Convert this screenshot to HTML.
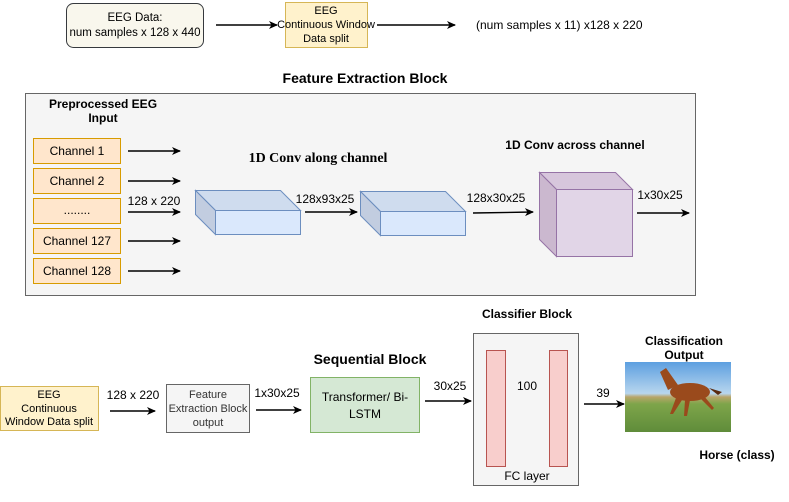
<!DOCTYPE html>
<html><head><meta charset="utf-8"><style>
body{margin:0;background:#fff}
svg{display:block;font-family:"Liberation Sans",Arial,sans-serif}
</style></head><body>
<svg width="789" height="502" viewBox="0 0 789 502" xmlns="http://www.w3.org/2000/svg">
<defs>
<marker id="a" markerWidth="10" markerHeight="10" refX="8" refY="5" orient="auto" markerUnits="userSpaceOnUse">
<path d="M0,1 L9,5 L0,9 L2.5,5 Z" fill="#000"/></marker>
<linearGradient id="sky" x1="0" y1="0" x2="0" y2="1">
<stop offset="0" stop-color="#5d9fe0"/><stop offset="0.45" stop-color="#b8d6ee"/><stop offset="0.5" stop-color="#b9a56a"/><stop offset="0.6" stop-color="#7ea54a"/><stop offset="1" stop-color="#5f8c3a"/></linearGradient>
</defs>
<g font-size="12" fill="#000" stroke="none">
<rect x="66.5" y="3.5" width="137" height="44" rx="7" fill="#f9f7ed" stroke="#36393d"/>
<text x="135" y="21" text-anchor="middle" font-size="11.5">EEG Data:</text>
<text x="135" y="36" text-anchor="middle" font-size="11.5">num samples x 128 x 440</text>
<g stroke="#000" stroke-width="1.4">
<line x1="216" y1="25" x2="277" y2="25" marker-end="url(#a)"/>
<line x1="377" y1="25" x2="455" y2="25" marker-end="url(#a)"/>
</g>
<rect x="285.5" y="2.5" width="82" height="45" fill="#fff2cc" stroke="#d6b656"/>
<text x="326" y="14" text-anchor="middle" font-size="11">EEG</text>
<text x="326" y="28" text-anchor="middle" font-size="11">Continuous Window</text>
<text x="326" y="42" text-anchor="middle" font-size="11">Data split</text>
<text x="476" y="29">(num samples x 11) x128 x 220</text>

<text x="365" y="83" text-anchor="middle" font-weight="bold" font-size="14">Feature Extraction Block</text>
<rect x="25.5" y="93.5" width="670" height="202" fill="#f5f5f5" stroke="#666"/>
<text x="103" y="108" text-anchor="middle" font-weight="bold">Preprocessed EEG</text>
<text x="103" y="122" text-anchor="middle" font-weight="bold">Input</text>
<g stroke="#d79b00" fill="#ffe6cc">
<rect x="33.5" y="138.5" width="87" height="25"/>
<rect x="33.5" y="168.5" width="87" height="25"/>
<rect x="33.5" y="198.5" width="87" height="25"/>
<rect x="33.5" y="228.5" width="87" height="25"/>
<rect x="33.5" y="258.5" width="87" height="25"/>
</g>
<text x="77" y="155" text-anchor="middle">Channel 1</text>
<text x="77" y="185" text-anchor="middle">Channel 2</text>
<text x="77" y="214" text-anchor="middle">........</text>
<text x="77" y="245" text-anchor="middle">Channel 127</text>
<text x="77" y="275" text-anchor="middle">Channel 128</text>
<g stroke="#000" stroke-width="1.4">
<line x1="128" y1="151" x2="180" y2="151" marker-end="url(#a)"/>
<line x1="128" y1="181" x2="180" y2="181" marker-end="url(#a)"/>
<line x1="128" y1="212" x2="180" y2="212" marker-end="url(#a)"/>
<line x1="128" y1="241" x2="180" y2="241" marker-end="url(#a)"/>
<line x1="128" y1="271" x2="180" y2="271" marker-end="url(#a)"/>
</g>
<text x="154" y="205" text-anchor="middle" style="paint-order:stroke" stroke="#f5f5f5" stroke-width="3">128 x 220</text>
<text x="318" y="162" text-anchor="middle" font-family="'Liberation Serif',serif" font-weight="bold" font-size="14">1D Conv along channel</text>

<g stroke="#6c8ebf">
<polygon points="195.5,190.5 280.5,190.5 300.5,210.5 215.5,210.5" fill="#cfdcee"/>
<polygon points="195.5,190.5 215.5,210.5 215.5,234.5 195.5,214.5" fill="#c2cde0"/>
<rect x="215.5" y="210.5" width="85" height="24" fill="#dae8fc"/>
<polygon points="360.5,191.5 445.5,191.5 465.5,211.5 380.5,211.5" fill="#cfdcee"/>
<polygon points="360.5,191.5 380.5,211.5 380.5,235.5 360.5,215.5" fill="#c2cde0"/>
<rect x="380.5" y="211.5" width="85" height="24" fill="#dae8fc"/>
</g>
<g stroke="#9673a6">
<polygon points="539.5,172.5 615.5,172.5 632.5,189.5 556.5,189.5" fill="#d7c6dc"/>
<polygon points="539.5,172.5 556.5,189.5 556.5,256.5 539.5,239.5" fill="#cbb8cf"/>
<rect x="556.5" y="189.5" width="76" height="67" fill="#e1d5e7"/>
</g>
<text x="575" y="149" text-anchor="middle" font-weight="bold">1D Conv across channel</text>
<g stroke="#000" stroke-width="1.4">
<line x1="305" y1="212" x2="357" y2="212" marker-end="url(#a)"/>
<line x1="473" y1="213" x2="533" y2="212" marker-end="url(#a)"/>
<line x1="637" y1="213" x2="689" y2="213" marker-end="url(#a)"/>
</g>
<text x="325" y="203" text-anchor="middle">128x93x25</text>
<text x="496" y="202" text-anchor="middle">128x30x25</text>
<text x="660" y="199" text-anchor="middle">1x30x25</text>

<rect x="0.5" y="386.5" width="98" height="44" fill="#fff2cc" stroke="#d6b656"/>
<text x="49" y="398" text-anchor="middle" font-size="11">EEG</text>
<text x="49" y="412" text-anchor="middle" font-size="11">Continuous</text>
<text x="49" y="425" text-anchor="middle" font-size="11">Window Data split</text>
<g stroke="#000" stroke-width="1.4">
<line x1="110" y1="411" x2="155" y2="411" marker-end="url(#a)"/>
<line x1="256" y1="410" x2="301" y2="410" marker-end="url(#a)"/>
<line x1="425" y1="401" x2="471" y2="401" marker-end="url(#a)"/>
<line x1="510" y1="402" x2="545" y2="402" marker-end="url(#a)"/>
<line x1="584" y1="404" x2="624" y2="404" marker-end="url(#a)"/>
</g>
<text x="133" y="399" text-anchor="middle">128 x 220</text>
<rect x="166.5" y="384.5" width="83" height="48" fill="#f5f5f5" stroke="#666"/>
<text x="208" y="398" text-anchor="middle" fill="#333" font-size="11">Feature</text>
<text x="208" y="412" text-anchor="middle" fill="#333" font-size="11">Extraction Block</text>
<text x="208" y="426" text-anchor="middle" fill="#333" font-size="11">output</text>
<text x="277" y="397" text-anchor="middle">1x30x25</text>
<text x="370" y="364" text-anchor="middle" font-weight="bold" font-size="14">Sequential Block</text>
<rect x="310.5" y="377.5" width="109" height="55" fill="#d5e8d4" stroke="#82b366"/>
<text x="365" y="401" text-anchor="middle">Transformer/ Bi-</text>
<text x="365" y="418" text-anchor="middle">LSTM</text>
<text x="450" y="390" text-anchor="middle">30x25</text>
<text x="527" y="318" text-anchor="middle" font-weight="bold">Classifier Block</text>
<rect x="473.5" y="333.5" width="105" height="152" fill="#f5f5f5" stroke="#666"/>
<rect x="486.5" y="350.5" width="19" height="116" fill="#f8cecc" stroke="#b85450"/>
<rect x="549.5" y="350.5" width="18" height="116" fill="#f8cecc" stroke="#b85450"/>
<text x="527" y="390" text-anchor="middle">100</text>
<text x="527" y="480" text-anchor="middle">FC layer</text>
<text x="603" y="397" text-anchor="middle">39</text>
<text x="684" y="345" text-anchor="middle" font-weight="bold">Classification</text>
<text x="684" y="359" text-anchor="middle" font-weight="bold">Output</text>
<rect x="625" y="362" width="106" height="70" fill="url(#sky)"/>
<g fill="#9a4a1c">
<ellipse cx="690" cy="392" rx="20" ry="9"/>
<path d="M668,390 L660,372 L666,368 L678,385 Z"/>
<path d="M676,398 L670,414 L673,414 L682,400 Z M700,398 L712,410 L714,408 L704,396 Z M685,400 L684,416 L687,416 L690,400 Z"/>
<path d="M709,388 L722,392 L718,395 Z" fill="#5a2a10"/>
</g>
<text x="737" y="459" text-anchor="middle" font-weight="bold">Horse (class)</text>
</g>
</svg>
</body></html>
